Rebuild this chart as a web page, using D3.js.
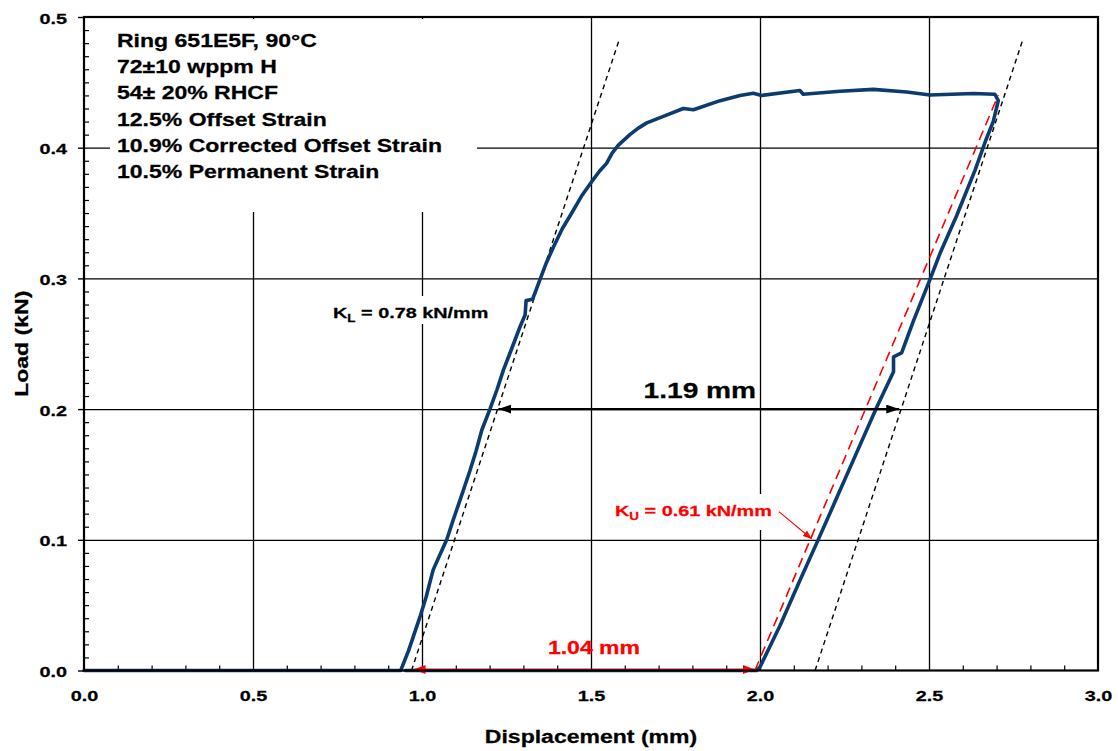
<!DOCTYPE html>
<html>
<head>
<meta charset="utf-8">
<script src="https://cdn.jsdelivr.net/npm/d3@7"></script>
<style>
body { margin: 0; background: #fff; }
text { font-family: "Liberation Sans", Arial, sans-serif; font-weight: bold; }
</style>
</head>
<body>
<div id="chart"></div>
<script>
// ring compression test, load / unload curve
const dispMm = [0, 0.937, 0.96, 0.994, 1.012, 1.033, 1.052, 1.073, 1.092, 1.112, 1.142, 1.160, 1.177, 1.201,
    1.222, 1.241, 1.265, 1.290, 1.305, 1.308, 1.327, 1.349, 1.368, 1.389, 1.415, 1.443, 1.472, 1.502, 1.525,
    1.546, 1.563, 1.581, 1.615, 1.640, 1.665, 1.714, 1.773, 1.803, 1.882, 1.941, 1.980, 2.005, 2.118, 2.128,
    2.237, 2.335, 2.434, 2.503, 2.631, 2.695,
    2.705, 2.690, 2.668, 2.636, 2.582, 2.533, 2.503, 2.454, 2.419, 2.395, 2.395, 2.345, 2.286, 2.227, 2.173,
    2.118, 2.059, 2.000, 1.990, 0.950];
const loadKn = [0, 0, 0.015, 0.041, 0.056, 0.077, 0.088, 0.100, 0.115, 0.130, 0.153, 0.168, 0.184, 0.200,
    0.215, 0.230, 0.246, 0.263, 0.272, 0.283, 0.284, 0.299, 0.312, 0.324, 0.338, 0.350, 0.363, 0.374, 0.382,
    0.388, 0.396, 0.402, 0.410, 0.415, 0.419, 0.424, 0.430, 0.429, 0.436, 0.440, 0.4417, 0.440, 0.4438, 0.4409,
    0.4432, 0.4446, 0.4426, 0.4403, 0.4415, 0.4409,
    0.436, 0.420, 0.4057, 0.3827, 0.3481, 0.3194, 0.2992, 0.2675, 0.243, 0.240, 0.2286, 0.2013, 0.1667, 0.1321, 0.1005,
    0.0688, 0.0343, 0.0027, 0, 0];

const xTicks = [0, 0.5, 1.0, 1.5, 2.0, 2.5, 3.0];
const yTicks = [0, 0.1, 0.2, 0.3, 0.4, 0.5];

const infoLines = ["Ring 651E5F, 90°C", "72±10 wppm H", "54± 20% RHCF", "12.5% Offset Strain",
    "10.9% Corrected Offset Strain", "10.5% Permanent Strain"];

// stiffness fit lines [x0, x1], [y0, y1]
const loadFitX = [0.969, 1.583], loadFitY = [0, 0.4823];
const offsetFitX = [2.163, 2.776], offsetFitY = [0, 0.4815];
const unloadFitX = [1.985, 2.705], unloadFitY = [0, 0.4403];

// dimension arrows
const offsetArrowX = [1.226, 2.412], offsetArrowY = 0.2;
const permArrowX = [0.975, 1.985], permArrowY = 0;
const kuPointerX = [2.056, 2.153], kuPointerY = [0.1215, 0.1006];

const W = 1118, H = 751;
const S = 1.28; // text in the picture is stretched sideways

const x = d3.scaleLinear().domain([0, 3]).range([84, 1098]);
const y = d3.scaleLinear().domain([0, 0.5]).range([670.5, 17]);

const svg = d3.select('#chart').append('svg')
    .attr('width', W).attr('height', H);

const defs = svg.append('defs');
function marker(id, color, w, h) {
    defs.append('marker')
        .attr('id', id)
        .attr('viewBox', `0 0 ${w} ${h}`)
        .attr('refX', w).attr('refY', h / 2)
        .attr('markerWidth', w).attr('markerHeight', h)
        .attr('markerUnits', 'userSpaceOnUse')
        .attr('orient', 'auto-start-reverse')
        .append('path')
        .attr('d', `M0,0L${w},${h / 2}L0,${h}Z`)
        .attr('fill', color);
}
marker('arrBlack', '#000', 13, 9);
marker('arrRed', '#ff0000', 12, 9);
marker('arrRedSmall', '#ff0000', 9, 7);

function addText(g, px, py, str, size, opts) {
    opts = opts || {};
    const t = g.append('text')
        .attr('transform', `translate(${px},${py})` + (opts.rotate ? ` rotate(${opts.rotate})` : '') + ` scale(${S},1)`)
        .attr('font-size', size)
        .attr('fill', opts.fill || '#000')
        .attr('stroke', opts.fill || '#000')
        .attr('stroke-width', 0.25)
        .attr('text-anchor', opts.anchor || 'start');
    if (str !== null) t.text(str);
    return t;
}

// grid
svg.append('g')
    .attr('transform', `translate(0,${y(0)})`)
    .call(d3.axisBottom(x).tickValues([0.5, 1.0, 1.5, 2.0, 2.5]).tickSize(-(y(0) - y(0.5))).tickFormat(''))
    .call(g => g.select('.domain').remove())
    .selectAll('line').attr('stroke', '#000').attr('stroke-width', 1.3);
svg.append('g')
    .attr('transform', `translate(${x(0)},0)`)
    .call(d3.axisLeft(y).tickValues([0.1, 0.2, 0.3, 0.4]).tickSize(-(x(3) - x(0))).tickFormat(''))
    .call(g => g.select('.domain').remove())
    .selectAll('line').attr('stroke', '#000').attr('stroke-width', 1.3);

// white label backgrounds hiding the grid
svg.append('rect').attr('x', 110).attr('y', 19).attr('width', 367).attr('height', 193).attr('fill', '#fff');
svg.append('rect').attr('x', 333).attr('y', 296).attr('width', 174).attr('height', 28).attr('fill', '#fff');
svg.append('rect').attr('x', 606).attr('y', 494).attr('width', 178).attr('height', 36).attr('fill', '#fff');

// minor ticks
const xMinor = d3.range(1, 30).map(i => i / 10).filter(v => Math.abs(v * 2 - Math.round(v * 2)) > 1e-6);
const yMinor = d3.range(1, 50).map(i => i / 100).filter(v => Math.abs(v * 10 - Math.round(v * 10)) > 1e-6);
svg.append('g')
    .attr('transform', `translate(0,${y(0)})`)
    .call(d3.axisBottom(x).tickValues(xMinor).tickSize(-5).tickFormat(''))
    .call(g => g.select('.domain').remove())
    .selectAll('line').attr('stroke', '#000').attr('stroke-width', 1.2);
svg.append('g')
    .attr('transform', `translate(${x(0)},0)`)
    .call(d3.axisLeft(y).tickValues(yMinor).tickSize(-5).tickFormat(''))
    .call(g => g.select('.domain').remove())
    .selectAll('line').attr('stroke', '#000').attr('stroke-width', 1.2);

// fit lines
const line = d3.line().x(d => x(d[0])).y(d => y(d[1]));
svg.append('path').datum(d3.zip(loadFitX, loadFitY)).attr('d', line)
    .attr('fill', 'none').attr('stroke', '#000').attr('stroke-width', 1.4).attr('stroke-dasharray', '5,4');
svg.append('path').datum(d3.zip(offsetFitX, offsetFitY)).attr('d', line)
    .attr('fill', 'none').attr('stroke', '#000').attr('stroke-width', 1.4).attr('stroke-dasharray', '5,4');

// measured curve
svg.append('path').datum(d3.zip(dispMm, loadKn)).attr('d', line)
    .attr('fill', 'none').attr('stroke', '#0b3b6f').attr('stroke-width', 3.6)
    .attr('stroke-linejoin', 'round').attr('stroke-linecap', 'round');

svg.append('path').datum(d3.zip(unloadFitX, unloadFitY)).attr('d', line)
    .attr('fill', 'none').attr('stroke', '#ff0000').attr('stroke-width', 1.6).attr('stroke-dasharray', '10,6');

// dimension arrows
svg.append('line')
    .attr('x1', x(offsetArrowX[0])).attr('x2', x(offsetArrowX[1]))
    .attr('y1', y(offsetArrowY)).attr('y2', y(offsetArrowY))
    .attr('stroke', '#000').attr('stroke-width', 2.4)
    .attr('marker-start', 'url(#arrBlack)').attr('marker-end', 'url(#arrBlack)');
svg.append('line')
    .attr('x1', x(permArrowX[0])).attr('x2', x(permArrowX[1]))
    .attr('y1', y(permArrowY) - 1).attr('y2', y(permArrowY) - 1)
    .attr('stroke', '#ff0000').attr('stroke-width', 1.6)
    .attr('marker-start', 'url(#arrRed)').attr('marker-end', 'url(#arrRed)');
svg.append('line')
    .attr('x1', x(kuPointerX[0])).attr('x2', x(kuPointerX[1]))
    .attr('y1', y(kuPointerY[0])).attr('y2', y(kuPointerY[1]))
    .attr('stroke', '#ff0000').attr('stroke-width', 1.1)
    .attr('marker-end', 'url(#arrRedSmall)');

// frame
svg.append('rect')
    .attr('x', x(0)).attr('y', y(0.5))
    .attr('width', x(3) - x(0)).attr('height', y(0) - y(0.5))
    .attr('fill', 'none').attr('stroke', '#000').attr('stroke-width', 2.2);

// axes labels
const yAxis = svg.append('g')
    .attr('transform', `translate(${x(0)},0)`)
    .call(d3.axisLeft(y).tickValues(yTicks).tickSize(6).tickFormat(d3.format('.1f')));
yAxis.select('.domain').remove();
yAxis.selectAll('line').attr('stroke', '#000').attr('stroke-width', 1.4);
yAxis.selectAll('text')
    .attr('x', null).attr('dy', null)
    .attr('transform', `translate(-17,6) scale(${S},1)`)
    .attr('font-size', 15.5).attr('fill', '#000').attr('stroke', '#000').attr('stroke-width', 0.25)
    .style('font-family', '"Liberation Sans", Arial, sans-serif').style('font-weight', 'bold');

const xAxis = svg.append('g')
    .attr('transform', `translate(0,${y(0)})`)
    .call(d3.axisBottom(x).tickValues(xTicks).tickSize(0).tickFormat(d3.format('.1f')));
xAxis.select('.domain').remove();
xAxis.selectAll('text')
    .attr('y', null).attr('dy', null)
    .attr('transform', `translate(0,30.5) scale(${S},1)`)
    .attr('font-size', 15.5).attr('fill', '#000').attr('stroke', '#000').attr('stroke-width', 0.25)
    .style('font-family', '"Liberation Sans", Arial, sans-serif').style('font-weight', 'bold');

addText(svg, (x(0) + x(3)) / 2, 743, 'Displacement (mm)', 18, {anchor: 'middle'});
addText(svg, 28, (y(0) + y(0.5)) / 2, 'Load (kN)', 18, {anchor: 'middle', rotate: -90});

// info block
infoLines.forEach((s, i) => addText(svg, 117, 47 + i * 26.2, s, 18));

// annotations
const kl = addText(svg, 333, 318, null, 15.5);
kl.append('tspan').text('K');
kl.append('tspan').attr('font-size', 10.5).attr('dy', 4).text('L');
kl.append('tspan').attr('dy', -4).text(' = 0.78 kN/mm');

const ku = addText(svg, 615, 516, null, 15.5, {fill: '#ff0000'});
ku.append('tspan').text('K');
ku.append('tspan').attr('font-size', 10.5).attr('dy', 4).text('U');
ku.append('tspan').attr('dy', -4).text(' = 0.61 kN/mm');

addText(svg, (x(offsetArrowX[0]) + x(offsetArrowX[1])) / 2 + 1, 398, '1.19 mm', 22, {anchor: 'middle'});
addText(svg, 594, 654, '1.04 mm', 18, {anchor: 'middle', fill: '#ff0000'});
</script>
</body>
</html>
